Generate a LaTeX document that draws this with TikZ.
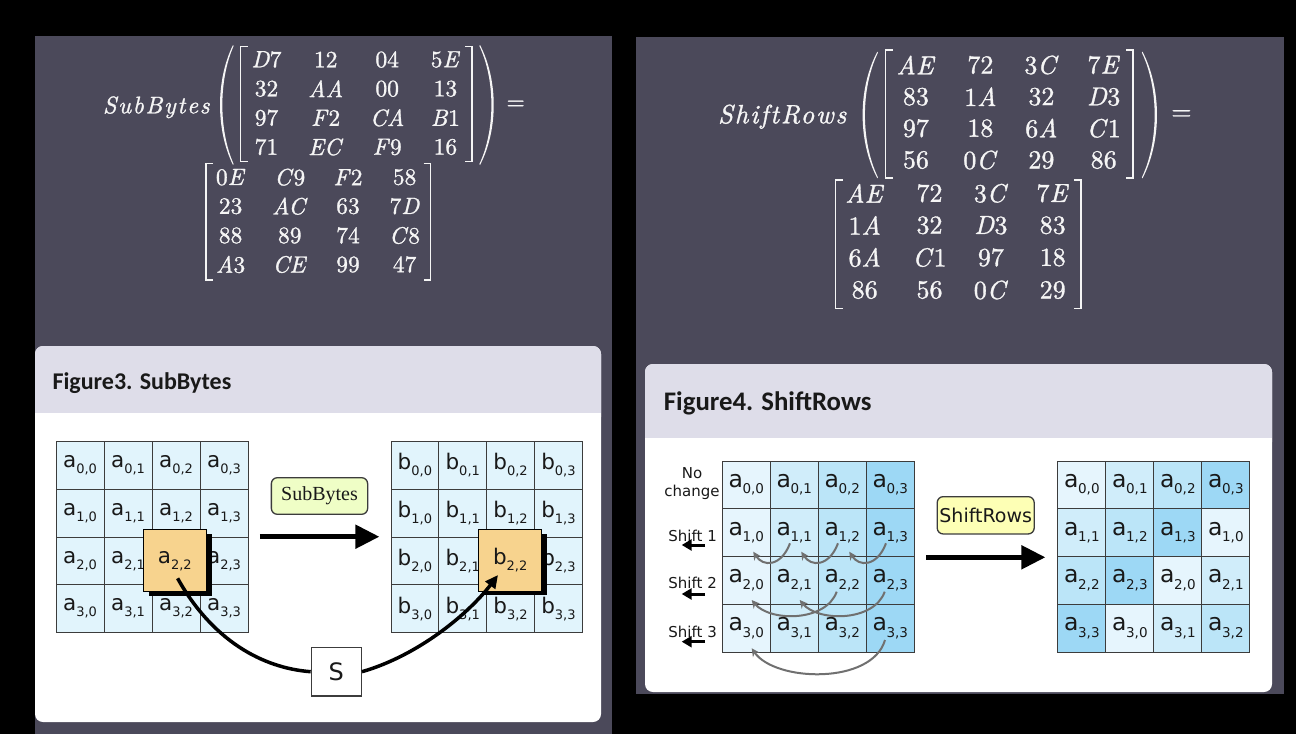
\documentclass[tikz,border=0pt]{standalone}
\usepackage{fontspec}
\usetikzlibrary{arrows.meta}
\newfontfamily\dvs{DejaVu Sans}
\newfontfamily\carl{Carlito}
\newfontfamily\lserif{Liberation Serif}
\newfontfamily\mupfont{lmroman10-regular.otf}[FakeBold=1.2]
\newfontfamily\mitfont{lmroman10-italic.otf}[FakeBold=1.2]
\newfontfamily\mitwide{lmroman10-italic.otf}[FakeBold=1.2,LetterSpace=7]
\newcommand\I[1]{{\mitfont #1\/}}
\definecolor{panel}{RGB}{75,73,90}
\definecolor{hdr}{RGB}{222,221,233}
\definecolor{cellb}{RGB}{225,244,252}
\definecolor{orng}{RGB}{247,211,142}
\definecolor{lime}{RGB}{239,254,198}
\definecolor{lyel}{RGB}{253,255,181}
\definecolor{k0}{RGB}{230,245,253}
\definecolor{k1}{RGB}{208,237,250}
\definecolor{k2}{RGB}{187,229,248}
\definecolor{k3}{RGB}{157,216,245}
\definecolor{gcv}{RGB}{112,112,112}
\definecolor{gridc}{RGB}{60,60,60}
\definecolor{mtxt}{RGB}{245,245,245}
\definecolor{ink}{RGB}{25,25,25}
\newcommand\cellA[2]{{\dvs\fontsize{21.5}{21.5}\selectfont #1\raisebox{-6pt}{\fontsize{13}{13}\selectfont #2}}}
\newcommand\cellB[2]{{\dvs\fontsize{23.5}{23.5}\selectfont #1\kern-0.5pt\raisebox{-6.5pt}{\fontsize{13.5}{13.5}\selectfont #2}}}
\newcommand\drawmat[5]{%
  \foreach \e [count=\i from 0] in {#5} {
    \pgfmathtruncatemacro\rr{div(\i,4)}
    \pgfmathtruncatemacro\cc{mod(\i,4)}
    \pgfmathsetmacro\xx{{#3}[\cc]}
    \pgfmathsetmacro\yy{{#4}[\rr]}
    \node[#2] (#1-\rr-\cc) at (\xx,\yy) {\e};
  }}
\begin{document}
\begin{tikzpicture}[x=1pt,y=-1pt,
  ment/.style={text=mtxt, inner sep=0pt, font=\mupfont\fontsize{23.5}{23.5}\selectfont},
  mentR/.style={text=mtxt, inner sep=0pt, font=\mupfont\fontsize{26}{26}\selectfont},
  brk/.style={draw=mtxt, line width=1.2pt},
  cellbox/.style={draw=gridc, line width=0.9pt, minimum width=48pt, minimum height=47.7pt, inner sep=0pt, text=ink},
  obox/.style={draw=black, line width=1pt, fill=orng, minimum width=62.6pt, minimum height=61.7pt, inner sep=0pt, text=ink},
  shbox/.style={fill=black, minimum width=62.6pt, minimum height=61.7pt, inner sep=0pt},
  bigarrow/.style={line width=5pt, -{Triangle[length=24pt,width=23pt]}},
  scurve/.style={line width=3.5pt, black},
  gcurve/.style={draw=gcv, line width=2pt, -{Stealth[length=8pt,width=8pt]}},
  sharrow/.style={line width=3pt, -{Triangle[length=10pt,width=11pt]}},
  title/.style={anchor=base west, inner sep=0pt, text=ink},
  slab/.style={anchor=east, inner sep=0pt, text=ink, font=\dvs\fontsize{15}{15}\selectfont}]
\useasboundingbox (0,0) rectangle (1296,734);
\fill[black] (0,0) rectangle (1296,734);
\fill[panel] (35,36) rectangle (612,734);
\fill[panel] (636,37) rectangle (1284,694);
% cards
\fill[white, rounded corners=8pt] (35,346) rectangle (601,722);
\fill[hdr, rounded corners=8pt] (35,346) rectangle (601,425);
\fill[white] (35,413) rectangle (601,430);
\fill[white, rounded corners=8pt] (645,364) rectangle (1272,692);
\fill[hdr, rounded corners=8pt] (645,364) rectangle (1272,450);
\fill[white] (645,438) rectangle (1272,455);

% ===== left equation =====
\node[text=mtxt, inner sep=0pt, anchor=base, font=\mitwide\fontsize{24}{24}\selectfont] (sbname) at (156.3,113.3) {SubBytes};
\fill[mtxt] (233,45) .. controls (215.7,80) and (215.7,130) .. (233,165) -- (233.6,164) .. controls (218.6,130) and (218.6,80) .. (233.6,46) -- cycle;
\fill[mtxt] (480,45) .. controls (498.3,80) and (498.3,130) .. (480,165) -- (479.4,164) .. controls (495.4,130) and (495.4,80) .. (479.4,46) -- cycle;
\draw[brk] (247.6,46.7) -- (240.6,46.7) -- (240.6,161.7) -- (247.6,161.7);
\draw[brk] (465,46.7) -- (472,46.7) -- (472,161.7) -- (465,161.7);
\drawmat{LA}{ment}{266.5,325.7,387.2,445.4}{59.5,88.7,117.8,147}{\I{D}7,12,04,5\I{E},32,\I{AA},00,13,97,\I{F}2,\I{CA},\I{B}1,71,\I{EC},\I{F}9,16}
\node[ment] (eqL) at (515.7,105) {=};
\draw[brk] (213,163.3) -- (206,163.3) -- (206,280) -- (213,280);
\draw[brk] (423.6,163.3) -- (430.6,163.3) -- (430.6,280) -- (423.6,280);
\drawmat{LB}{ment}{230.6,289.8,348,404.6}{177.2,206.2,235.5,264.5}{0\I{E},\I{C}9,\I{F}2,58,23,\I{AC},63,7\I{D},88,89,74,\I{C}8,\I{A}3,\I{CE},99,47}

% ===== right equation =====
\node[text=mtxt, inner sep=0pt, anchor=base, font=\mitwide\fontsize{26.5}{26.5}\selectfont] (srname) at (782.2,123.3) {ShiftRows};
\fill[mtxt] (877.3,51.7) .. controls (857.7,88.7) and (857.7,141.3) .. (877.3,178.3) -- (877.9,177.3) .. controls (860.6,141.3) and (860.6,88.7) .. (877.9,52.7) -- cycle;
\fill[mtxt] (1142.5,51.7) .. controls (1161.8,88.7) and (1161.8,141.3) .. (1142.5,178.3) -- (1141.9,177.3) .. controls (1158.9,141.3) and (1158.9,88.7) .. (1141.9,52.7) -- cycle;
\draw[brk] (892.6,50) -- (885.6,50) -- (885.6,178) -- (892.6,178);
\draw[brk] (1126,50) -- (1133,50) -- (1133,178) -- (1126,178);
\drawmat{RA}{mentR}{915.9,980.4,1041.4,1103.7}{65,96.7,128.3,160}{\I{AE},72,3\I{C},7\I{E},83,1\I{A},32,\I{D}3,97,18,6\I{A},\I{C}1,56,0\I{C},29,86}
\node[mentR] (eqR) at (1181.4,115) {=};
\draw[brk] (842.5,180) -- (835.5,180) -- (835.5,308.3) -- (842.5,308.3);
\draw[brk] (1074,180) -- (1081,180) -- (1081,308.3) -- (1074,308.3);
\drawmat{RB}{mentR}{864.7,929.5,990.9,1052.7}{193.3,225.3,257.5,290}{\I{AE},72,3\I{C},7\I{E},1\I{A},32,\I{D}3,83,6\I{A},\I{C}1,97,18,86,56,0\I{C},29}

% ===== Figure 3 =====
\node[title, font=\carl\bfseries\fontsize{24}{24}\selectfont] (t3) at (52.3,389) {Figure3. SubBytes};
\foreach \r in {0,...,3} \foreach \c in {0,...,3} {
  \node[cellbox, fill=cellb] (A-\r-\c) at ({80+48*\c},{465.55+47.7*\r}) {\cellA{a}{\r,\c}};
  \node[cellbox, fill=cellb, minimum width=47.85pt] (B-\r-\c) at ({414.9+47.85*\c},{465.55+47.7*\r}) {\cellA{b}{\r,\c}};
}
\node[shbox] (oash) at (180.3,564.8) {};
\node[obox] (oa) at (174.8,560.8) {\cellA{a}{2,2}};
\node[shbox] (obsh) at (515.7,564.5) {};
\node[obox] (ob) at (510.2,560.5) {\cellA{b}{2,2}};
\node[draw=gridc, line width=1.3pt, fill=lime, rounded corners=6pt, minimum width=96.3pt, minimum height=36.6pt, inner sep=0pt, text=ink, font=\lserif\fontsize{20}{20}\selectfont] (lsb) at (319.5,496) {SubBytes};
\coordinate (ar3s) at (259.8,536.7);
\coordinate (ar3e) at (379.4,536.7);
\draw[bigarrow] (ar3s) -- (ar3e);
\node[draw=gridc, line width=1.3pt, fill=white, minimum width=50pt, minimum height=48.7pt, inner sep=0pt, text=ink, font=\dvs\fontsize{24}{24}\selectfont] (sbox) at (336.3,671.7) {S};
\coordinate (cs) at (177.6,578.3);
\coordinate (ct) at (498,575);
\draw[scurve] (cs) .. controls (212,640) and (262,668) .. (sbox.west);
\draw[scurve, -{Triangle[length=13pt,width=12pt]}] (sbox.east) .. controls (420,655) and (470,612) .. (ct);

% ===== Figure 4 =====
\node[title, font=\carl\bfseries\fontsize{26.8}{26.8}\selectfont] (t4) at (663.7,410) {Figure4. ShiftRows};
\foreach \r in {0,...,3} \foreach \c in {0,...,3} {
  \node[cellbox, fill=k\c] (P-\r-\c) at ({746.3+48*\c},{484.9+47.75*\r}) {\cellB{a}{\r,\c}};
  \pgfmathtruncatemacro\j{mod(\c+\r,4)}
  \node[cellbox, fill=k\j] (Q-\r-\c) at ({1081.9+48*\c},{484.9+47.75*\r}) {\cellB{a}{\r,\j}};
}
\node[align=center, inner sep=0pt, text=ink, font=\dvs\fontsize{15}{18}\selectfont] (nochg) at (692,484) {No\\change};
\node[slab] (sh1) at (717,535.7) {Shift 1};
\node[slab] (sh2) at (717,583.3) {Shift 2};
\node[slab] (sh3) at (717,631.7) {Shift 3};
\coordinate (s1a) at (705,545); \coordinate (s1b) at (681.7,545);
\coordinate (s2a) at (705,594); \coordinate (s2b) at (681.7,594);
\coordinate (s3a) at (705,641.7); \coordinate (s3b) at (681.7,641.7);
\draw[sharrow] (s1a) -- (s1b);
\draw[sharrow] (s2a) -- (s2b);
\draw[sharrow] (s3a) -- (s3b);
% gray shift curves
\foreach \k in {0,1,2} {
  \draw[gcurve] ({790+48*\k},543.3) .. controls ({781+48*\k},567) and ({763+48*\k},567) .. ({753.3+48*\k},551.7);
}
\foreach \k in {0,1} {
  \draw[gcurve] ({836.7+48*\k},591.7) .. controls ({826+48*\k},622) and ({770+48*\k},622) .. ({751.7+48*\k},600);
}
\draw[gcurve] (885,640) .. controls (872,685) and (775,682) .. (751.7,648.3);
\node[draw=gridc, line width=1.3pt, fill=lyel, rounded corners=6pt, minimum width=97pt, minimum height=37.3pt, inner sep=0pt, text=ink, font=\dvs\fontsize{19}{19}\selectfont] (lsr) at (985.7,515.3) {ShiftRows};
\coordinate (ar4s) at (926,557.3);
\coordinate (ar4e) at (1045.4,557.3);
\draw[bigarrow] (ar4s) -- (ar4e);
\end{tikzpicture}
\end{document}
